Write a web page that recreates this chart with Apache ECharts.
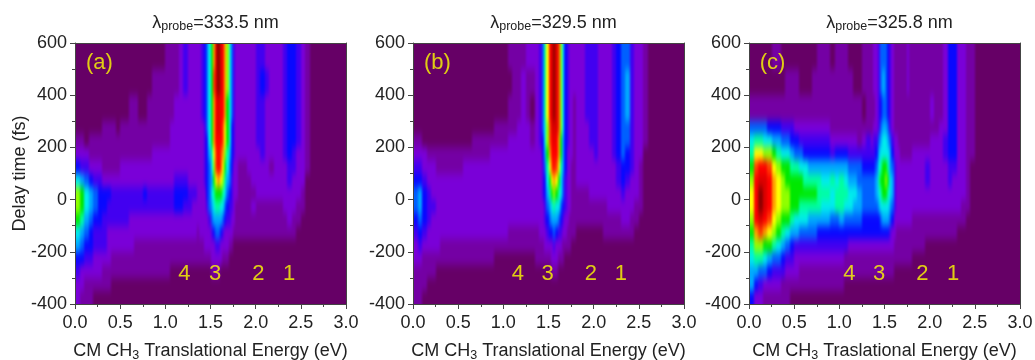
<!DOCTYPE html>
<html>
<head>
<meta charset="utf-8">
<style>
  html, body { margin: 0; padding: 0; background: #fff; }
  #chart { width: 1035px; height: 360px; }
  /* heat cells live on zlevel 0, soften them like the scanned contour plot and keep them inside the frames */
  #chart canvas[data-zr-dom-id="zr_0"] {
    filter: url(#smooth);
    clip-path: path('M75 43h271v261h-271z M413 43h271v261h-271z M749 43h271v261h-271z');
  }
</style>
<script src="https://cdn.jsdelivr.net/npm/echarts@6/dist/echarts.min.js"></script>
</head>
<body>
<svg width="0" height="0" style="position:absolute">
  <filter id="smooth" x="0" y="0" width="100%" height="100%" color-interpolation-filters="sRGB">
    <feGaussianBlur stdDeviation="1 4"/>
  </filter>
</svg>
<div id="chart"></div>
<script>
// cell edges, finer around peak 3
const energyEdges = [0,0.05,0.1,0.15,0.2,0.25,0.3,0.35,0.4,0.45,0.5,0.55,0.6,0.65,0.7,0.75,0.8,0.85,0.9,0.95,1,1.05,1.1,1.15,1.2,1.25,1.3,1.35,
  1.375,1.4,1.425,1.45,1.475,1.5,1.525,1.55,1.575,1.6,1.625,1.65,1.675,1.7,1.725,1.75,1.775,1.8,
  1.85,1.9,1.95,2,2.05,2.1,2.15,2.2,2.25,2.3,2.35,2.4,2.45,2.5,2.55,2.6,2.8,3]
const timeEdges = [600,500,400,300,250,200,150,100,50,0,-50,-100,-150,-200,-250,-300,-350,-400]

// contour level per cell, one row per time band
const panelARows = [
  [0,0,0,0,0,0,0,0,0,0,0,0,0,0,0,0,0,0,0,0,1,1,1,2,3,2,2, 2,2,3,4,5,7,9,12,15,16,15,14,12,10,7,5,3,2, 2,2,2,2,3,3,2,2,2,2,3,4,4,3,2,1, 0,0],
  [0,0,0,0,0,0,0,0,0,0,0,0,0,0,0,0,0,1,1,1,1,1,1,2,3,2,2, 2,2,3,4,5,7,9,13,15,16,15,14,12,10,7,5,3,2, 2,2,2,2,3,4,3,2,2,2,3,4,4,3,2,1, 0,0],
  [0,0,0,0,0,0,0,0,0,0,0,0,1,1,0,0,1,1,1,1,1,1,2,2,2,2,2, 2,2,3,4,5,7,9,12,14,15,14,14,12,9,7,5,3,2, 2,2,2,2,3,3,2,2,2,2,3,4,4,3,2,1, 0,0],
  [0,0,0,0,0,0,1,1,1,0,1,1,1,1,1,1,1,1,1,1,1,2,2,2,2,2,2, 2,2,2,3,5,7,9,12,14,15,14,13,11,9,7,4,3,2, 2,2,2,2,3,3,2,2,2,2,3,4,4,3,2,1, 0,0],
  [1,1,0,1,1,1,1,1,1,1,1,1,1,1,1,1,1,1,1,1,1,2,2,2,2,2,2, 2,2,2,3,4,7,9,12,14,14,14,13,11,9,7,4,3,2, 2,2,2,2,3,3,2,2,2,2,3,4,4,3,2,1, 0,0],
  [2,2,2,1,1,1,1,1,1,1,1,1,1,1,1,1,1,2,2,2,2,2,2,2,2,2,2, 2,2,2,3,4,6,8,11,13,14,13,12,10,8,6,4,3,2, 2,2,2,2,2,3,2,2,2,2,3,4,3,2,2,1, 0,0],
  [4,3,3,2,2,2,1,1,1,1,2,2,2,2,2,2,2,2,2,2,2,2,2,2,2,2,2, 2,2,2,3,4,5,7,10,13,14,13,11,9,7,5,4,2,2, 1,1,2,2,2,2,2,1,2,2,2,3,3,2,2,1, 0,0],
  [7,6,5,4,3,3,2,2,2,2,2,2,2,2,2,2,2,2,2,2,2,2,3,3,3,2,2, 2,2,2,3,4,5,6,9,11,12,11,10,8,6,5,3,2,2, 1,1,1,2,2,2,2,2,2,2,2,3,2,2,2,0, 0,0],
  [10,9,7,6,5,4,4,4,3,3,3,3,3,3,3,4,3,3,3,3,3,3,4,4,4,3,3, 2,2,2,2,4,5,7,8,9,9,9,8,7,5,4,3,2,2, 1,1,1,1,2,2,2,2,2,2,2,2,2,2,1,0, 0,0],
  [10,9,7,6,5,4,4,3,3,3,3,3,3,3,3,3,3,3,3,3,3,3,4,4,3,3,2, 2,2,2,2,3,5,6,7,8,8,7,7,5,4,3,3,2,1, 1,1,1,2,1,1,1,1,1,1,2,2,2,1,1,0, 0,0],
  [9,8,6,5,4,4,3,3,3,3,3,3,2,2,2,2,2,2,2,2,2,2,2,2,2,2,2, 2,2,2,2,2,3,5,6,6,6,6,5,4,3,3,2,2,1, 1,1,1,1,1,1,1,1,1,1,1,2,1,1,0,0, 0,0],
  [7,6,5,4,3,3,3,2,2,2,2,2,2,2,2,2,2,2,2,2,2,2,2,2,2,2,2, 1,2,2,2,2,2,3,4,5,5,4,3,2,2,2,2,1,1, 1,1,1,1,1,1,1,1,1,1,1,1,1,0,0,0, 0,0],
  [6,5,4,4,3,3,3,2,2,2,2,2,2,1,1,1,1,1,1,1,1,1,1,1,1,1,1, 1,1,1,2,2,2,2,2,3,3,2,2,2,2,1,1,0,0, 0,0,0,0,0,0,0,0,0,0,0,0,0,0,0,0, 0,0],
  [4,4,3,3,2,2,2,2,1,1,1,1,1,1,1,1,1,1,1,1,1,1,1,1,1,1,1, 1,1,1,1,1,1,2,2,2,2,2,1,1,1,0,0,0,0, 0,0,0,0,0,0,0,0,0,0,0,0,0,0,0,0, 0,0],
  [3,2,2,2,2,2,1,1,1,1,1,1,1,1,1,1,1,1,1,1,1,0,0,0,0,0,0, 0,0,0,0,0,0,1,1,1,1,0,0,0,0,0,0,0,0, 0,0,0,0,0,0,0,0,0,0,0,0,0,0,0,0, 0,0],
  [2,2,1,1,1,1,1,1,0,0,0,0,0,0,0,0,0,0,0,0,0,0,0,0,0,0,0, 0,0,0,0,0,0,0,0,0,0,0,0,0,0,0,0,0,0, 0,0,0,0,0,0,0,0,0,0,0,0,0,0,0,0, 0,0],
  [2,1,1,1,0,0,0,0,0,0,0,0,0,0,0,0,0,0,0,0,0,0,0,0,0,0,0, 0,0,0,0,0,0,0,0,0,0,0,0,0,0,0,0,0,0, 0,0,0,0,0,0,0,0,0,0,0,0,0,0,0,0, 0,0]
]
const panelBRows = [
  [0,0,0,0,0,0,0,0,0,0,0,0,0,0,0,0,0,0,0,0,0,1,1,1,1,2,2, 2,2,3,5,8,11,14,15,16,15,13,10,7,4,3,2,2,2, 2,2,3,3,3,2,2,2,3,4,5,5,3,2,2,1, 0,0],
  [0,0,0,0,0,0,0,0,0,0,0,0,0,0,0,0,0,0,0,0,0,0,1,1,2,1,1, 2,2,3,5,8,11,14,15,16,15,13,10,7,4,3,2,2,2, 2,2,3,3,3,2,2,2,3,4,5,6,3,2,2,1, 0,0],
  [0,0,0,0,0,0,0,0,0,0,0,0,0,0,0,0,0,0,0,0,0,1,1,1,2,1,0, 2,2,3,5,8,11,14,15,16,15,13,10,7,4,3,2,2,1, 2,2,3,3,3,2,2,2,3,4,5,6,3,2,2,1, 0,0],
  [0,0,0,0,0,0,0,0,0,0,0,0,0,0,0,0,0,0,1,1,1,1,1,2,2,2,1, 2,2,3,5,7,10,13,15,15,15,13,10,7,4,3,2,2,1, 2,2,2,3,3,2,2,2,3,4,5,5,3,2,2,1, 0,0],
  [1,1,0,0,0,0,0,0,0,0,0,0,0,1,1,1,1,1,1,1,1,2,2,2,2,2,1, 2,2,3,4,7,10,13,14,15,14,12,9,6,4,3,2,2,1, 2,2,2,3,3,2,2,2,3,4,5,5,3,2,2,1, 0,0],
  [2,2,2,1,1,1,1,1,1,1,1,1,1,1,1,1,1,2,2,2,2,2,2,2,2,2,2, 2,2,2,4,6,9,12,14,14,14,12,9,6,4,2,2,2,1, 2,2,2,2,3,2,2,2,3,4,5,4,3,2,2,0, 0,0],
  [3,3,2,2,2,1,1,1,1,1,1,2,2,2,2,2,2,2,2,2,2,2,2,2,2,2,2, 2,2,2,3,5,8,11,13,14,13,11,8,6,4,2,2,1,1, 2,2,2,2,2,2,2,2,2,3,4,4,3,2,1,0, 0,0],
  [4,4,3,2,2,2,2,2,2,2,2,2,2,2,2,2,2,2,2,2,2,2,2,2,2,2,2, 2,2,2,3,4,7,9,11,12,11,9,7,5,3,2,2,1,1, 2,2,2,2,2,2,2,2,2,3,4,3,2,2,1,0, 0,0],
  [5,6,4,3,2,2,2,2,2,2,2,2,2,2,2,2,2,2,2,2,2,2,2,2,2,2,2, 2,2,2,3,4,6,8,9,10,9,8,7,5,3,2,2,1,1, 1,1,1,2,2,2,2,2,2,2,3,2,2,2,1,0, 0,0],
  [5,6,4,3,3,2,2,2,2,2,2,2,2,2,2,2,2,2,2,2,2,2,2,2,2,2,2, 2,2,2,2,3,5,6,7,8,7,7,5,4,3,2,2,1,1, 1,1,1,1,1,1,1,2,2,2,2,2,2,1,1,0, 0,0],
  [4,5,4,3,2,2,2,2,2,2,2,2,2,2,2,2,2,2,2,2,2,2,2,2,2,2,2, 2,2,2,2,3,4,5,6,6,6,5,4,3,2,2,1,1,1, 1,1,1,1,1,1,1,1,1,1,2,2,1,1,0,0, 0,0],
  [3,4,3,2,2,2,2,2,2,2,2,2,2,2,2,2,2,2,2,2,2,1,1,1,1,1,1, 1,1,2,2,2,3,4,4,5,4,3,3,2,2,1,1,1,1, 0,0,0,0,0,0,1,1,1,1,1,1,1,0,0,0, 0,0],
  [2,3,2,2,2,2,1,1,1,1,1,1,1,1,1,1,1,1,1,1,1,1,1,1,1,1,1, 1,1,1,1,2,2,2,2,3,2,2,2,1,1,1,1,0,0, 0,0,0,0,0,0,0,0,0,0,0,0,0,0,0,0, 0,0],
  [2,2,1,1,1,1,1,1,1,1,1,1,1,1,1,1,1,1,0,0,0,0,0,0,0,0,0, 1,1,1,1,1,1,1,2,2,2,1,1,1,0,0,0,0,0, 0,0,0,0,0,0,0,0,0,0,0,0,0,0,0,0, 0,0],
  [1,1,1,1,1,0,0,0,0,0,0,0,0,0,0,0,0,0,0,0,0,0,0,0,0,0,0, 0,0,0,0,0,0,0,1,1,1,0,0,0,0,0,0,0,0, 0,0,0,0,0,0,0,0,0,0,0,0,0,0,0,0, 0,0],
  [1,1,1,0,0,0,0,0,0,0,0,0,0,0,0,0,0,0,0,0,0,0,0,0,0,0,0, 0,0,0,0,0,0,0,0,0,0,0,0,0,0,0,0,0,0, 0,0,0,0,0,0,0,0,0,0,0,0,0,0,0,0, 0,0],
  [1,1,0,0,0,0,0,0,0,0,0,0,0,0,0,0,0,0,0,0,0,0,0,0,0,0,0, 0,0,0,0,0,0,0,0,0,0,0,0,0,0,0,0,0,0, 0,0,0,0,0,0,0,0,0,0,0,0,0,0,0,0, 0,0]
]
const panelCRows = [
  [0,0,0,0,0,1,1,0,0,0,0,0,0,0,0,1,1,1,0,1,1,1,0,0,0,1,1, 1,2,2,3,5,5,5,4,3,2,1,1,1,1,1,1,2,1, 1,1,1,1,1,1,1,2,4,4,2,2,1,1,0,0, 0,0],
  [0,0,0,0,0,0,0,0,1,1,1,0,0,0,1,1,1,1,1,1,1,1,1,0,0,1,1, 1,2,2,3,5,6,5,4,3,2,1,1,1,1,1,1,2,1, 1,1,1,1,1,1,1,2,4,4,2,2,1,1,0,0, 0,0],
  [1,1,1,1,1,1,1,1,1,1,1,1,1,1,1,1,1,1,1,1,1,1,1,1,1,0,1, 1,1,2,3,4,5,5,4,3,2,1,1,1,1,1,1,1,1, 1,1,1,1,2,1,1,2,4,4,2,2,1,1,0,0, 0,0],
  [5,5,5,5,4,4,4,3,3,3,2,2,2,2,2,2,2,2,1,1,1,1,1,1,1,1,1, 1,2,2,3,5,6,6,5,3,2,1,1,1,1,1,1,1,1, 1,1,1,1,1,1,2,2,4,4,2,2,1,1,0,0, 0,0],
  [7,8,8,7,7,6,6,5,5,4,4,3,3,3,3,3,3,3,2,2,2,2,2,2,1,2,3, 2,3,3,5,6,7,7,6,5,3,2,2,1,1,1,1,1,1, 1,1,1,1,2,2,2,3,4,4,2,2,1,1,0,0, 0,0],
  [8,11,11,10,10,9,8,7,7,6,5,5,4,4,4,4,4,4,3,4,4,4,3,3,3,3,3, 3,3,4,6,7,7,7,7,6,4,2,2,2,1,1,1,1,1, 2,2,2,2,2,2,2,3,4,4,2,2,1,1,0,0, 0,0],
  [9,13,14,14,13,11,10,9,9,8,8,7,7,6,6,6,6,6,6,6,6,6,5,5,5,4,4, 4,4,5,7,8,9,9,8,6,5,3,2,2,2,2,2,2,2, 2,2,2,3,2,2,2,2,3,3,2,2,1,0,0,0, 0,0],
  [10,14,15,15,14,12,11,10,9,9,9,9,8,8,8,8,7,7,8,7,8,7,6,6,5,5,5, 5,5,6,8,9,9,10,9,7,6,3,2,2,2,2,2,2,2, 2,2,2,3,2,2,2,2,3,2,2,2,1,0,0,0, 0,0],
  [11,14,16,15,14,12,11,10,10,9,9,9,9,9,9,8,8,8,7,8,8,8,7,7,6,5,5, 5,5,6,7,8,9,9,8,7,6,3,2,2,2,2,2,2,2, 2,2,2,2,2,2,2,2,2,2,2,2,1,0,0,0, 0,0],
  [11,14,16,15,14,12,11,10,10,9,9,8,8,8,8,8,7,7,7,8,8,7,7,6,6,5,5, 5,5,5,6,7,7,7,7,6,5,3,2,2,2,2,2,2,2, 2,2,2,2,2,2,2,2,2,2,2,1,1,0,0,0, 0,0],
  [10,14,15,14,13,11,10,9,9,8,7,7,7,6,6,6,6,6,5,5,6,5,5,5,5,4,4, 4,4,4,4,5,6,6,6,5,4,2,2,2,2,2,2,2,2, 1,1,1,1,1,1,1,1,1,1,1,1,0,0,0,0, 0,0],
  [9,12,13,12,11,10,9,8,7,6,6,5,5,5,5,4,4,4,4,4,4,4,4,4,4,4,4, 4,4,4,4,4,4,4,4,3,2,2,1,1,1,1,1,1,1, 1,1,1,1,1,1,1,1,1,1,0,0,0,0,0,0, 0,0],
  [8,10,10,9,9,8,7,6,5,4,3,3,3,3,3,3,3,3,3,3,3,3,2,2,2,2,2, 2,2,2,2,2,2,2,2,2,2,1,1,1,1,1,1,1,1, 1,1,1,0,0,0,0,0,0,0,0,0,0,0,0,0, 0,0],
  [7,8,8,7,6,5,5,4,3,3,2,2,2,2,2,2,2,2,2,2,2,1,1,1,1,1,1, 1,1,1,1,1,1,1,1,1,1,1,1,1,1,1,1,1,1, 0,0,0,0,0,0,0,0,0,0,0,0,0,0,0,0, 0,0],
  [6,6,5,5,4,3,3,3,2,2,2,1,1,1,1,1,1,1,1,1,1,1,1,1,1,1,1, 1,1,1,1,1,1,1,1,1,1,0,0,0,0,0,0,0,0, 0,0,0,0,0,0,0,0,0,0,0,0,0,0,0,0, 0,0],
  [6,4,3,2,2,2,2,1,1,1,1,1,1,1,1,1,1,1,1,1,1,0,0,0,0,0,0, 0,0,0,0,0,0,0,0,0,0,0,0,0,0,0,0,0,0, 0,0,0,0,0,0,0,0,0,0,0,0,0,0,0,0, 0,0],
  [4,2,2,1,1,1,1,1,1,0,0,0,0,0,0,0,0,0,0,0,0,0,0,0,0,0,0, 0,0,0,0,0,0,0,0,0,0,0,0,0,0,0,0,0,0, 0,0,0,0,0,0,0,0,0,0,0,0,0,0,0,0, 0,0]
]

const levelColors = ['#660066','#7400a4','#7a00d8','#4200f0','#0808ff','#0060ff','#00a8ff','#00ecec','#00ffa0','#00e800','#90ff00','#ffff00','#ffa000','#ff4000','#ff0000','#dc0000','#900000']

const wavelengths = ['333.5', '329.5', '325.8']
const panelTags = ['(a)', '(b)', '(c)']
const axisWords = ['Translational', 'Translational', 'Traslational']
const peakNames = ['4', '3', '2', '1']
const peakEnergiesA = [1.21, 1.55, 2.03, 2.37]
const peakEnergiesB = [1.16, 1.49, 1.97, 2.30]
const peakEnergiesC = [1.11, 1.44, 1.92, 2.26]
const tagEnergies = [0.27, 0.27, 0.26]
const panelRows = [panelARows, panelBRows, panelCRows]
const panelPeaks = [peakEnergiesA, peakEnergiesB, peakEnergiesC]
const gridLefts = [75, 413, 749]

const fontName = '"Liberation Sans", Arial, sans-serif'
const inkColor = '#222'

function cellData(rows) {
  const cells = []
  rows.forEach((row, r) => {
    row.forEach((level, c) => {
      cells.push([energyEdges[c], energyEdges[c + 1], timeEdges[r], timeEdges[r + 1], level])
    })
  })
  return cells
}

function renderCell(params, api) {
  const p0 = api.coord([api.value(0), api.value(2)])
  const p1 = api.coord([api.value(1), api.value(3)])
  // outer cells run past the frame so the blur does not pull in white at the edges
  const x0 = Math.round(p0[0]) - (api.value(0) === 0 ? 6 : 0)
  const x1 = Math.round(p1[0]) + (api.value(1) === 3 ? 6 : 0)
  const y0 = Math.round(p0[1]) - (api.value(2) === 600 ? 20 : 0)
  const y1 = Math.round(p1[1]) + (api.value(3) === -400 ? 20 : 0)
  return {
    type: 'rect',
    shape: { x: x0, y: y0, width: x1 - x0, height: y1 - y0 },
    style: { fill: levelColors[api.value(4)] }
  }
}

const option = {
  animation: false,
  backgroundColor: 'transparent',
  title: [], grid: [], xAxis: [], yAxis: [], series: []
}

const lineStyle = { color: '#444', width: 1 }

wavelengths.forEach((nm, i) => {
  const left = gridLefts[i]
  option.grid.push({ left: left, top: 43, width: 271, height: 261, outerBoundsMode: 'none' })
  option.title.push({
    zlevel: 1,
    text: 'λ{sub|probe}=' + nm + ' nm',
    left: left + 135.5,
    top: 8,
    textAlign: 'center',
    textStyle: {
      fontFamily: fontName, fontSize: 18, fontWeight: 'normal', color: inkColor, lineHeight: 20,
      rich: { sub: { fontFamily: fontName, fontSize: 12.5, color: inkColor, padding: [8, 0, 0, 0] } }
    }
  })
  option.xAxis.push({
    gridIndex: i, type: 'value', min: 0, max: 3, interval: 0.5, zlevel: 1,
    position: 'bottom',
    axisLine: { onZero: false, lineStyle: lineStyle },
    axisTick: { show: true, length: 5, inside: false, lineStyle: lineStyle },
    minorTick: { show: true, splitNumber: 2, length: 3, lineStyle: lineStyle },
    splitLine: { show: false },
    axisLabel: { show: true, margin: 10, color: inkColor, fontFamily: fontName, fontSize: 18, showMinLabel: true, showMaxLabel: true,
      formatter: v => v.toFixed(1), hideOverlap: false },
    name: 'CM CH{sub|3} ' + axisWords[i] + ' Energy (eV)',
    nameLocation: 'middle',
    nameGap: 37,
    nameTextStyle: {
      fontFamily: fontName, fontSize: 18, color: inkColor, lineHeight: 20,
      rich: { sub: { fontFamily: fontName, fontSize: 12.5, color: inkColor, padding: [9, 0, 0, 0] } }
    }
  }, {
    gridIndex: i, type: 'value', min: 0, max: 3, position: 'top', zlevel: 1,
    axisLine: { onZero: false, lineStyle: lineStyle }, axisTick: { show: false }, axisLabel: { show: false }, splitLine: { show: false }
  })
  option.yAxis.push({
    gridIndex: i, type: 'value', min: -400, max: 600, interval: 200, zlevel: 1,
    position: 'left',
    axisLine: { onZero: false, lineStyle: lineStyle },
    axisTick: { show: true, length: 5, inside: false, lineStyle: lineStyle },
    minorTick: { show: true, splitNumber: 2, length: 3, lineStyle: lineStyle },
    splitLine: { show: false },
    axisLabel: { show: true, margin: 8, color: inkColor, fontFamily: fontName, fontSize: 18, showMinLabel: true, showMaxLabel: true, hideOverlap: false },
    name: i === 0 ? 'Delay time (fs)' : '',
    nameLocation: 'middle',
    nameGap: 46,
    nameMoveOverlap: false,
    nameTextStyle: { fontFamily: fontName, fontSize: 18, color: inkColor }
  }, {
    gridIndex: i, type: 'value', min: -400, max: 600, position: 'right', zlevel: 1,
    axisLine: { onZero: false, lineStyle: lineStyle }, axisTick: { show: false }, axisLabel: { show: false }, splitLine: { show: false }
  })

  option.series.push({
    type: 'custom',
    xAxisIndex: i * 2,
    yAxisIndex: i * 2,
    clip: false,
    renderItem: renderCell,
    encode: { x: [0, 1], y: [2, 3] },
    data: cellData(panelRows[i]),
    silent: true
  })

  const labelPoints = panelPeaks[i].map((e, k) => [e, -286, peakNames[k]])
  labelPoints.push([tagEnergies[i], 523, panelTags[i]])
  option.series.push({
    type: 'scatter',
    xAxisIndex: i * 2,
    yAxisIndex: i * 2,
    zlevel: 1,
    symbolSize: 1,
    itemStyle: { color: 'transparent' },
    silent: true,
    data: labelPoints,
    label: {
      show: true,
      position: 'inside',
      formatter: p => p.value[2],
      color: '#ffff00',
      textBorderWidth: 0,
      fontFamily: fontName,
      fontSize: 22
    }
  })
})

const chart = echarts.init(document.getElementById('chart'), null, { renderer: 'canvas' })
chart.setOption(option)
</script>
</body>
</html>
